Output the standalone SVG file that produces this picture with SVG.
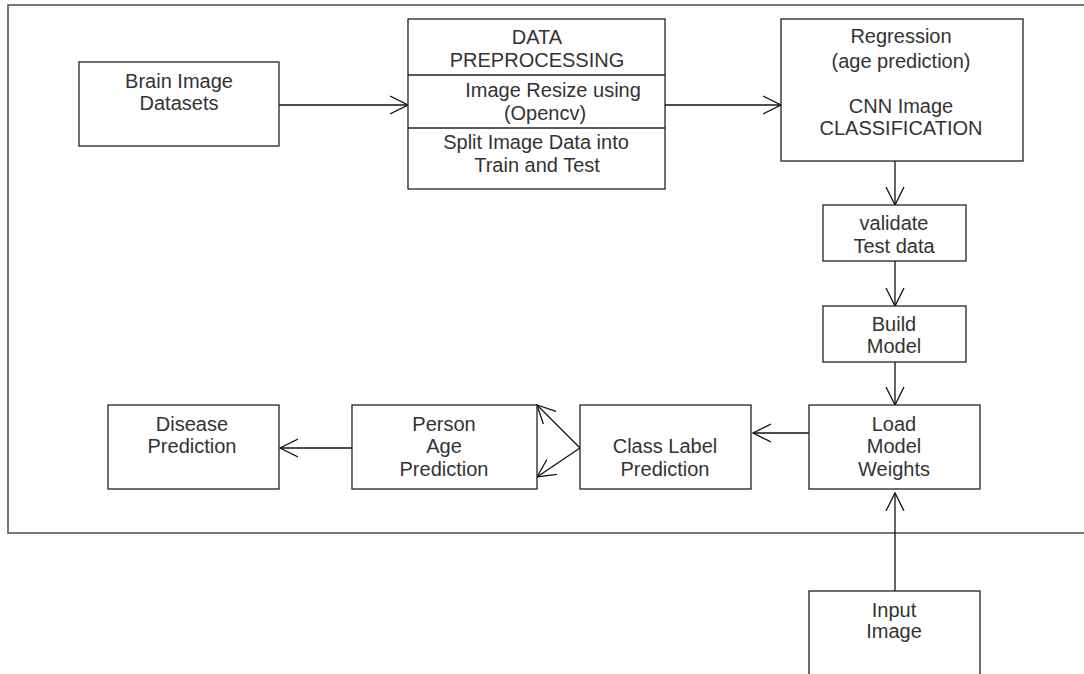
<svg xmlns="http://www.w3.org/2000/svg" width="1084" height="674" viewBox="0 0 1084 674">
  <defs>
    <style>
      .frame { fill: none; stroke: #555; stroke-width: 1.6; }
      .box { fill: #fff; stroke: #222; stroke-width: 1.3; }
      .div { stroke: #222; stroke-width: 1.3; }
      .edge { fill: none; stroke: #111; stroke-width: 1.3; }
      text { font-family: "Liberation Sans", Arial, sans-serif; font-size: 20px; fill: #333; text-anchor: middle; }
    </style>
    <marker id="arr" viewBox="0 0 20 20" refX="18" refY="10" markerWidth="20" markerHeight="20" markerUnits="userSpaceOnUse" orient="auto-start-reverse">
      <path d="M0,1 L18,10 L0,19" fill="none" stroke="#111" stroke-width="1.3"/>
    </marker>
  </defs>

  <rect class="frame" x="8" y="5" width="1090" height="528"/>

  <g id="connectors">
    <line class="edge" x1="279" y1="105" x2="408" y2="105" marker-end="url(#arr)"/>
    <line class="edge" x1="665" y1="105" x2="781" y2="105" marker-end="url(#arr)"/>
    <line class="edge" x1="895" y1="161" x2="895" y2="205" marker-end="url(#arr)"/>
    <line class="edge" x1="895" y1="261" x2="895" y2="306" marker-end="url(#arr)"/>
    <line class="edge" x1="895" y1="362" x2="895" y2="405" marker-end="url(#arr)"/>
    <line class="edge" x1="809" y1="433" x2="753" y2="433" marker-end="url(#arr)"/>
    <line class="edge" x1="580" y1="448" x2="537" y2="405" marker-end="url(#arr)"/>
    <line class="edge" x1="580" y1="448" x2="537" y2="477" marker-end="url(#arr)"/>
    <line class="edge" x1="352" y1="448" x2="280" y2="448" marker-end="url(#arr)"/>
    <line class="edge" x1="895" y1="591" x2="895" y2="493" marker-end="url(#arr)"/>
  </g>

  <g id="brain-datasets">
    <rect class="box" x="79" y="62" width="200" height="84"/>
    <text x="179" y="88">Brain Image</text>
    <text x="179" y="110">Datasets</text>
  </g>

  <g id="data-preprocessing">
    <rect class="box" x="408" y="19" width="257" height="170"/>
    <line class="div" x1="408" y1="75" x2="665" y2="75"/>
    <line class="div" x1="408" y1="128" x2="665" y2="128"/>
    <text x="537" y="44">DATA</text>
    <text x="537" y="67">PREPROCESSING</text>
    <text x="553" y="97">Image Resize using</text>
    <text x="545" y="120">(Opencv)</text>
    <text x="536" y="149">Split Image Data into</text>
    <text x="537" y="172">Train and Test</text>
  </g>

  <g id="cnn-classification">
    <rect class="box" x="781" y="19" width="242" height="142"/>
    <text x="901" y="43">Regression</text>
    <text x="901" y="68">(age prediction)</text>
    <text x="901" y="113">CNN Image</text>
    <text x="901" y="135">CLASSIFICATION</text>
  </g>

  <g id="validate-test">
    <rect class="box" x="823" y="205" width="143" height="56"/>
    <text x="894" y="230">validate</text>
    <text x="894" y="253">Test data</text>
  </g>

  <g id="build-model">
    <rect class="box" x="823" y="306" width="143" height="56"/>
    <text x="894" y="331">Build</text>
    <text x="894" y="353">Model</text>
  </g>

  <g id="load-weights">
    <rect class="box" x="809" y="405" width="171" height="84"/>
    <text x="894" y="431">Load</text>
    <text x="894" y="453">Model</text>
    <text x="894" y="476">Weights</text>
  </g>

  <g id="class-label">
    <rect class="box" x="580" y="405" width="171" height="84"/>
    <text x="665" y="453">Class Label</text>
    <text x="665" y="476">Prediction</text>
  </g>

  <g id="age-prediction">
    <rect class="box" x="352" y="405" width="185" height="84"/>
    <text x="444" y="431">Person</text>
    <text x="444" y="453">Age</text>
    <text x="444" y="476">Prediction</text>
  </g>

  <g id="disease-prediction">
    <rect class="box" x="108" y="405" width="171" height="84"/>
    <text x="192" y="431">Disease</text>
    <text x="192" y="453">Prediction</text>
  </g>

  <g id="input-image">
    <rect class="box" x="809" y="591" width="171" height="100"/>
    <text x="894" y="617">Input</text>
    <text x="894" y="638">Image</text>
  </g>
</svg>
